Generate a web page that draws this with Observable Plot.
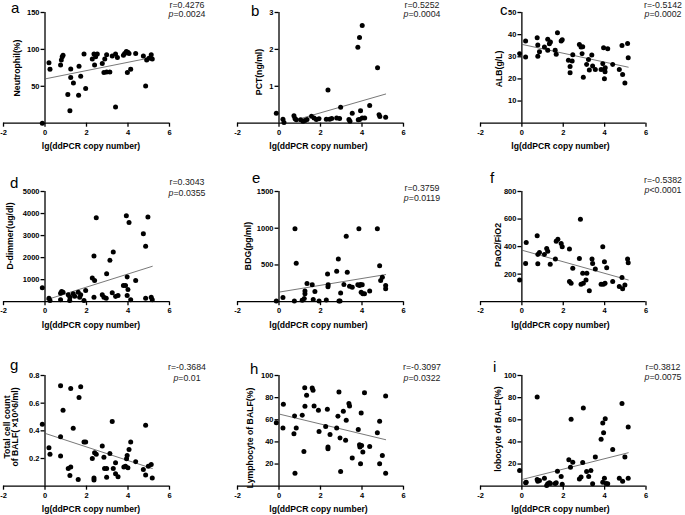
<!DOCTYPE html>
<html><head><meta charset="utf-8">
<script src="https://cdn.jsdelivr.net/npm/d3@7"></script>
<script src="https://cdn.jsdelivr.net/npm/@observablehq/plot@0.6"></script>
<style>
html,body{margin:0;padding:0;background:#fff;}
#root{position:relative;width:685px;height:515px;overflow:hidden;font-family:"Liberation Sans",Arial,sans-serif;color:#000;}
.abs{position:absolute;white-space:nowrap;line-height:1;}
.ylab{font-weight:bold;font-size:8.7px;line-height:8.4px;transform:translate(-50%,-50%) rotate(-90deg);text-align:center;}
.xlab{font-weight:bold;font-size:8.6px;transform:translate(-50%,-50%);}
.stat{font-size:8.8px;color:#222;transform:translate(-50%,-50%);}
.letter{font-size:15px;}
</style></head><body><div id="root"></div>
<script>
// ---------- data (x = lg(ddPCR copy number), y = measured value) ----------
const xTicks = [-2, 0, 2, 4, 6];
const xLabel = "lg(ddPCR copy number)";

const neutrophil = [[-0.13,0],[0.19,82],[0.24,73],[0.75,79],[0.79,85.5],[0.83,90],[0.87,92],[1.1,39],[1.24,73.6],[1.24,62],[1.2,17],[1.37,54.5],[1.64,77],[1.62,38],[1.72,63.6],[1.88,93.6],[1.96,47],[2.28,87],[2.36,93.6],[2.39,79],[2.44,90],[2.52,93.6],[2.76,81],[2.88,87],[2.97,92.7],[2.84,68.6],[2.97,69.5],[3.13,69.5],[3.24,91],[3.4,93.6],[3.4,22],[3.49,89],[3.78,92],[3.84,94.5],[3.92,97],[4.0,96],[4.05,94.5],[3.97,68.6],[4.13,73],[4.37,94.5],[4.74,91],[4.85,50.5],[4.9,85.5],[5.01,88],[5.12,92.7],[5.17,87]];
const pct = [[-0.13,0.27],[0.19,0.11],[0.24,0.02],[0.72,0.2],[0.77,0.13],[0.83,0.09],[1.04,0.09],[1.16,0.05],[1.25,0.07],[1.35,0.1],[1.57,0.19],[1.69,0.14],[1.8,0.1],[1.93,0.12],[2.28,0.11],[2.36,0.9],[2.44,0.11],[2.54,0.13],[2.78,0.14],[2.92,0.13],[2.97,0.43],[3.37,0.1],[3.42,0.05],[3.53,0.27],[3.8,2.06],[3.88,2.32],[3.88,0.1],[3.93,0.34],[4.01,2.65],[4.01,0.14],[4.13,0.14],[4.37,0.48],[4.75,1.5],[4.82,0.23],[4.86,0.18],[5.14,0.16],[3.82,0.09]];
const alb = [[-0.11,31.4],[0.18,37.1],[0.18,29.9],[0.74,38.6],[0.77,35.3],[0.77,30.2],[0.85,32.3],[1.09,34.4],[1.25,37.9],[1.25,32.9],[1.33,35.9],[1.38,36.7],[1.61,32.9],[1.66,31.1],[1.72,40.9],[1.9,37.1],[1.95,37.7],[2.25,28.4],[2.33,25.6],[2.33,22.8],[2.43,28.1],[2.46,30.9],[2.78,35.6],[2.86,34.4],[2.94,34.5],[2.91,31.4],[2.97,20.8],[3.13,26.5],[3.22,28.8],[3.26,24],[3.38,30.8],[3.42,25.8],[3.55,24.3],[3.83,24.3],[3.91,26.8],[3.95,34.1],[3.99,24.3],[4.02,23.2],[3.99,20.1],[4.03,25],[4.15,33.6],[4.39,26.5],[4.71,24.3],[4.84,35.1],[4.87,22],[4.98,18.2],[5.11,36],[5.14,29.6]];
const dDimer = [[-0.13,631],[0.19,160],[0.24,53],[0.75,388],[0.8,464],[0.87,433],[0.75,84],[1.12,312],[1.19,53],[1.2,205],[1.36,357],[1.43,251],[1.6,433],[1.67,205],[1.72,312],[1.88,53],[1.96,510],[2.28,1072],[2.36,2076],[2.39,965],[2.47,3810],[2.36,205],[2.76,312],[2.84,205],[2.95,160],[2.97,1270],[3.13,1878],[3.24,403],[3.29,2258],[3.4,236],[3.52,281],[3.78,738],[3.88,738],[3.92,3901],[3.96,1118],[3.96,281],[4.0,555],[4.05,3597],[4.13,84],[4.37,965],[4.74,3080],[4.85,2517],[4.85,160],[4.96,3840],[5.12,205],[5.17,84]];
const bdg = [[-0.13,9],[0.19,58],[0.74,9],[0.77,994],[0.83,522],[1.12,18],[1.22,45],[1.25,144],[1.25,108],[1.35,247],[1.6,229],[1.65,31],[1.73,140],[1.93,9],[2.28,22],[2.34,378],[2.36,202],[2.37,229],[2.78,414],[2.86,580],[2.89,9],[2.94,9],[2.97,117],[3.13,234],[3.24,891],[3.29,400],[3.4,211],[3.53,198],[3.8,229],[3.85,994],[3.88,220],[3.93,234],[3.96,130],[4.01,229],[4.04,108],[4.12,108],[4.37,144],[4.74,994],[4.85,490],[4.9,288],[4.98,333],[5.14,220],[5.14,175]];
const pfRatio = [[-0.11,158],[0.18,278],[0.21,430],[0.74,478],[0.77,343],[0.77,276],[0.85,358],[1.09,343],[1.2,386],[1.25,367],[1.37,271],[1.62,310],[1.66,439],[1.74,454],[1.9,422],[1.95,398],[2.3,382],[2.3,146],[2.38,134],[2.46,242],[2.78,314],[2.83,598],[2.86,127],[2.94,206],[2.97,134],[3.1,158],[3.14,206],[3.26,79],[3.39,310],[3.42,278],[3.55,238],[3.83,127],[3.91,398],[3.94,127],[3.99,290],[4.02,134],[4.1,247],[4.39,146],[4.71,110],[4.84,175],[4.87,94],[4.98,122],[5.11,310],[5.14,283]];
const cellCount = [[-0.13,0.447],[0.19,0.278],[0.24,0.23],[0.75,0.726],[0.75,0.358],[0.75,0.218],[0.87,0.549],[1.12,0.128],[1.24,0.706],[1.24,0.138],[1.2,0.077],[1.36,0.418],[1.64,0.641],[1.72,0.718],[1.6,0.048],[1.88,0.319],[1.96,0.319],[2.28,0.2],[2.36,0.06],[2.36,0.044],[2.39,0.242],[2.47,0.23],[2.76,0.29],[2.84,0.21],[2.87,0.128],[2.97,0.128],[2.97,0.065],[3.13,0.237],[3.24,0.467],[3.29,0.128],[3.4,0.169],[3.4,0.09],[3.52,0.068],[3.8,0.138],[3.88,0.145],[3.93,0.198],[3.96,0.222],[4.0,0.133],[4.05,0.266],[4.13,0.319],[4.37,0.177],[4.74,0.121],[4.85,0.44],[4.85,0.08],[4.98,0.145],[5.12,0.157],[5.17,0.06]];
const lymphocyte = [[-0.13,57.4],[0.19,52.5],[0.21,74],[0.72,47.4],[0.75,63.4],[0.77,11.8],[0.83,52.5],[1.12,64],[1.2,31.4],[1.24,89],[1.25,72.2],[1.33,82.1],[1.6,88.8],[1.64,86.6],[1.69,72.5],[1.9,68.5],[1.93,49.5],[2.25,54],[2.33,69.4],[2.36,35.3],[2.36,33.8],[2.46,46.8],[2.78,52.5],[2.84,63.1],[2.89,85.1],[2.94,43.5],[2.97,13.3],[3.1,67.6],[3.21,41.4],[3.24,59.5],[3.37,74.6],[3.4,72.5],[3.53,25.4],[3.82,51.3],[3.88,37.4],[3.9,35.3],[3.93,20.2],[3.96,66.1],[3.98,36.8],[4.04,30.8],[4.12,84.5],[4.37,35.9],[4.74,48.3],[4.85,58.6],[4.85,20.2],[4.98,27.8],[5.14,81.5],[5.14,11.8]];
const lobocyte = [[-0.11,14.2],[0.18,3],[0.21,3.6],[0.74,80.6],[0.74,6],[0.77,4.5],[0.85,5.1],[1.09,7.2],[1.2,0.6],[1.25,2.1],[1.33,3],[1.38,2.4],[1.61,2.4],[1.66,3],[1.72,13.6],[1.9,8.8],[1.95,1.8],[2.27,23.8],[2.35,17.2],[2.38,60.4],[2.46,21.7],[2.78,6.6],[2.86,8.2],[2.94,21.4],[2.97,70.6],[3.13,13.3],[3.23,8.8],[3.34,14.2],[3.42,2.1],[3.55,26.3],[3.83,42.3],[3.91,57.1],[3.91,3.6],[3.95,48.3],[3.99,7.2],[4.03,61],[4.07,2.4],[4.15,2.1],[4.39,33.2],[4.71,7.2],[4.84,74.6],[4.87,4.5],[4.98,26.3],[5.14,53.4],[5.14,7.2]];

// fitted regression lines (endpoints)
const fitNeutrophil = [[0,60],[5.15,89]];
const fitPct = [[0.7,0.07],[5.14,0.79]];
const fitAlb = [[0,35.6],[5.14,25.3]];
const fitDDimer = [[0,66],[5.17,1605]];
const fitBdg = [[0,130],[5.14,369]];
const fitPf = [[0,374],[5.14,158]];
const fitCell = [[0,0.382],[5.17,0.128]];
const fitLymph = [[0,65.2],[5.14,42]];
const fitLobo = [[0,6],[5.14,30.2]];

// y tick values per panel
const yTicksA = [50,100,150], yTicksB = [1,2,3], yTicksC = [10,20,30,40,50];
const yTicksD = [1000,2000,3000,4000,5000], yTicksE = [500,1000,1500], yTicksF = [200,400,600,800];
const yTicksG = [0.2,0.4,0.6,0.8], yTicksH = [20,40,60,80,100], yTicksI = [20,40,60,80,100];

const letters = ["a","b","c","d","e","f","g","h","i"];
const yLabels = [["Neutrophil(%)"],["PCT(ng/ml)"],["ALB(g/L)"],["D-dimmer(ug/dl)"],["BDG(pg/ml)"],["PaO2/FiO2"],["Total cell count","of BALF( ×10^6/ml)"],["Lymphocyte of BALF(%)"],["lobocyte of BALF(%)"]];
const rTexts = ["r=0.4276","r=0.5252","r=-0.5142","r=0.3043","r=0.3759","r=-0.5382","r=-0.3684","r=-0.3097","r=0.3812"];
const pTexts = ["=0.0024","=0.0004","=0.0002","=0.0355","=0.0119","<0.0001","=0.01","=0.0322","=0.0075"];

const series = [neutrophil,pct,alb,dDimer,bdg,pfRatio,cellCount,lymphocyte,lobocyte];
const fits = [fitNeutrophil,fitPct,fitAlb,fitDDimer,fitBdg,fitPf,fitCell,fitLymph,fitLobo];
const yTicks = [yTicksA,yTicksB,yTicksC,yTicksD,yTicksE,yTicksF,yTicksG,yTicksH,yTicksI];
const yMax = [150,3,50,5000,1500,800,0.8,100,100];

// ---------- layout ----------
const colX = [[3.3,169.3],[237.3,403.3],[480,645.5]];
const rowY = [[12.3,123],[191.3,301.5],[375,485.7]];
const yLabPos = [[17,68],[259,72],[499,69],[10,236],[248,246],[498,245],[11,427],[250,438],[497.5,429]];
const letterPos = [[11,13],[251,16],[500,15],[10,188],[252,183],[490,183],[10,370],[250,374],[493,372]];
const statX = [187,422,663];
const statY = [[4.5,14.2],[4.5,14.2],[4.5,14.2],[181.5,192.5],[187.5,197.5],[180,189.5],[366.7,377.7],[367,377.7],[367,376.7]];
const xLabX = [91,318.5,560.5], xLabY = [146,324.5,509];

const root = document.getElementById("root");
function addDiv(cls, html, x, y) {
  const d = document.createElement("div");
  d.className = "abs " + cls;
  d.innerHTML = html;
  d.style.left = x + "px";
  d.style.top = y + "px";
  root.appendChild(d);
  return d;
}

for (let k = 0; k < 9; k++) {
  const col = k % 3, row = Math.floor(k / 3);
  const [fx0, fx1] = colX[col], [fy0, fy1] = rowY[row];
  const mL = 8, mR = 8, mT = 8, mB = 22;
  const W = fx1 - fx0 + mL + mR, H = fy1 - fy0 + mT + mB;
  const pts = series[k].map(([x, y]) => ({x, y}));
  const fit = fits[k].map(([x, y]) => ({x, y}));
  const ym = yMax[k];
  const chart = Plot.plot({
    width: W, height: H,
    marginLeft: mL, marginRight: mR, marginTop: mT, marginBottom: mB,
    x: {domain: [-2, 6]},
    y: {domain: [0, ym], axis: null},
    style: {fontFamily: "'Liberation Sans', Arial, sans-serif", fontSize: "7.5px", fontWeight: "bold", background: "transparent", overflow: "visible", color: "#000"},
    marks: [
      Plot.ruleY([0], {stroke: "#000", strokeWidth: 1.3}),
      Plot.ruleX([{x: 0, y1: 0, y2: ym}], {x: "x", y1: "y1", y2: "y2", stroke: "#000", strokeWidth: 1.3}),
      Plot.ruleY(yTicks[k], {y: d => d, x1: () => -0.19, x2: () => 0, stroke: "#000", strokeWidth: 1.3}),
      Plot.text(yTicks[k], {x: () => 0, y: d => d, text: d => String(d), dx: -5.5, textAnchor: "end", fontWeight: "bold", fill: "#000"}),
      Plot.axisX({ticks: xTicks, tickSize: 4, tickPadding: 2, tickFormat: d => String(d), label: null, strokeWidth: 1.3, stroke: "#000", fill: "#000"}),
      Plot.line(fit, {x: "x", y: "y", stroke: "#555", strokeWidth: 0.8}),
      Plot.dot(pts, {x: "x", y: "y", r: 2.5, fill: "#000", stroke: "none"})
    ]
  });
  chart.style.position = "absolute";
  chart.style.left = (fx0 - mL) + "px";
  chart.style.top = (fy0 - mT) + "px";
  chart.style.maxWidth = "none";
  root.appendChild(chart);

  // annotations
  addDiv("ylab", yLabels[k].join("<br>"), yLabPos[k][0], yLabPos[k][1]);
  addDiv("letter", letters[k], letterPos[k][0], letterPos[k][1] - 0.85 * 15);
  addDiv("stat", rTexts[k], statX[col], statY[k][0]);
  addDiv("stat", "<i>p</i>" + pTexts[k], statX[col], statY[k][1]);
  addDiv("xlab", xLabel, xLabX[col], xLabY[row]);
}
</script>
</body></html>
